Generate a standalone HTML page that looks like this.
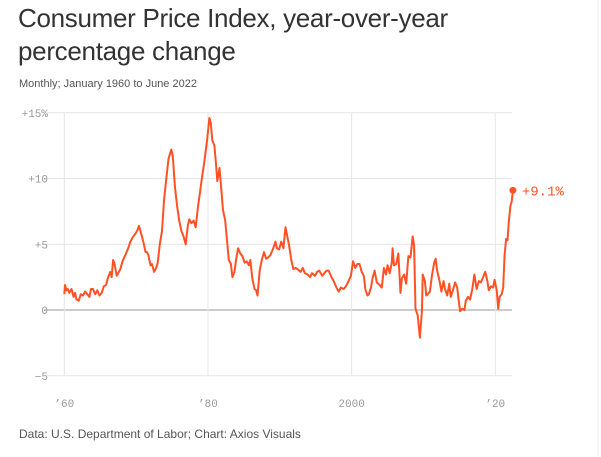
<!DOCTYPE html>
<html><head><meta charset="utf-8">
<style>
html,body{margin:0;padding:0;background:#fff;}
body{width:601px;height:457px;position:relative;overflow:hidden;font-family:"Liberation Sans",sans-serif;}
.title{position:absolute;left:18px;top:2px;font-size:26px;line-height:33px;color:#333;letter-spacing:-0.3px;}
.sub{position:absolute;left:19px;top:78px;font-size:11px;color:#555;}
.foot{position:absolute;left:19px;top:427px;font-size:12px;color:#555;}
svg{position:absolute;left:0;top:0;}
</style></head><body>
<div class="title">Consumer Price Index, year-over-year<br>percentage change</div>
<div class="sub">Monthly; January 1960 to June 2022</div>
<div class="foot">Data: U.S. Department of Labor; Chart: Axios Visuals</div>
<svg id="chart" width="601" height="457"></svg>
<script>
const years=[1960.0,1960.1,1960.3,1960.5,1960.7,1961.0,1961.3,1961.5,1961.7,1962.0,1962.3,1962.6,1962.9,1963.2,1963.5,1963.7,1964.0,1964.3,1964.6,1964.9,1965.2,1965.5,1965.8,1966.1,1966.4,1966.6,1966.8,1967.0,1967.3,1967.5,1967.8,1968.1,1968.5,1968.9,1969.2,1969.5,1969.9,1970.2,1970.4,1970.7,1971.0,1971.3,1971.5,1971.7,1972.0,1972.2,1972.5,1972.8,1973.0,1973.3,1973.6,1973.9,1974.2,1974.5,1974.9,1975.1,1975.4,1975.7,1976.0,1976.3,1976.6,1976.9,1977.2,1977.4,1977.7,1978.0,1978.3,1978.6,1978.9,1979.2,1979.5,1979.9,1980.2,1980.4,1980.6,1980.9,1981.1,1981.3,1981.6,1981.9,1982.1,1982.4,1982.7,1982.9,1983.2,1983.4,1983.7,1983.9,1984.2,1984.5,1984.8,1985.1,1985.4,1985.7,1985.9,1986.2,1986.5,1986.7,1986.9,1987.2,1987.5,1987.8,1988.1,1988.4,1988.7,1989.1,1989.4,1989.6,1989.9,1990.2,1990.5,1990.8,1991.0,1991.3,1991.6,1991.9,1992.2,1992.5,1992.9,1993.2,1993.5,1993.9,1994.2,1994.5,1994.9,1995.2,1995.5,1995.9,1996.2,1996.5,1996.8,1997.2,1997.5,1997.9,1998.2,1998.5,1998.9,1999.2,1999.5,1999.9,2000.2,2000.5,2000.8,2001.1,2001.4,2001.7,2001.9,2002.2,2002.4,2002.7,2002.9,2003.2,2003.5,2003.9,2004.2,2004.5,2004.8,2005.0,2005.3,2005.6,2005.7,2005.9,2006.2,2006.5,2006.8,2007.0,2007.3,2007.6,2007.9,2008.2,2008.5,2008.7,2008.9,2009.2,2009.5,2009.8,2009.9,2010.2,2010.4,2010.6,2010.9,2011.2,2011.5,2011.7,2011.9,2012.2,2012.5,2012.8,2013.0,2013.3,2013.6,2013.8,2014.1,2014.4,2014.7,2014.9,2015.1,2015.4,2015.7,2015.9,2016.2,2016.5,2016.8,2017.1,2017.4,2017.7,2018.0,2018.3,2018.6,2018.9,2019.1,2019.4,2019.7,2019.9,2020.2,2020.4,2020.6,2020.9,2021.1,2021.3,2021.5,2021.7,2021.9,2022.1,2022.3,2022.45];
const values=[1.2,1.9,1.5,1.6,1.3,1.6,1.0,1.3,0.8,0.7,1.2,1.1,1.4,1.2,1.0,1.6,1.6,1.2,1.5,1.1,1.3,1.8,1.9,2.5,2.9,2.5,3.8,3.5,2.6,2.8,3.1,3.7,4.2,4.7,5.2,5.5,5.8,6.1,6.4,5.8,5.2,4.4,4.4,4.2,3.4,3.5,2.9,3.2,3.6,5.0,6.0,8.4,10.0,11.5,12.2,11.7,9.4,7.9,6.8,6.0,5.6,5.0,6.4,6.9,6.6,6.8,6.3,7.8,9.0,10.2,11.3,13.0,14.6,14.2,12.9,12.5,11.2,9.8,10.8,8.9,7.6,6.8,5.0,3.8,3.5,2.5,2.9,3.8,4.7,4.3,4.1,3.6,3.7,3.4,3.8,2.3,1.6,1.5,1.1,3.0,3.8,4.4,3.9,4.0,4.2,4.7,5.2,4.7,4.6,5.2,4.7,6.3,5.7,4.9,3.8,3.1,3.2,3.1,2.9,3.2,2.8,2.7,2.5,2.8,2.6,2.9,3.0,2.6,2.8,3.0,3.0,2.5,2.2,1.7,1.4,1.7,1.6,1.8,2.1,2.6,3.7,3.2,3.5,3.5,2.9,2.6,1.6,1.1,1.2,1.7,2.4,3.0,2.1,1.9,1.7,3.2,2.7,3.4,2.8,3.6,4.7,3.4,3.5,4.3,1.3,2.4,2.7,2.0,4.1,4.0,5.6,4.9,0.1,-0.4,-2.1,0.0,2.7,2.2,1.1,1.2,1.4,2.7,3.6,3.9,3.0,2.3,1.4,2.2,1.6,1.1,2.0,1.0,1.5,2.1,1.7,0.8,-0.1,0.1,0.0,0.7,1.0,0.8,1.6,2.7,1.6,2.2,2.1,2.5,2.9,2.2,1.5,1.8,1.7,2.3,1.5,0.1,1.0,1.2,1.7,4.2,5.4,5.3,6.8,7.9,8.3,9.1];
const yTicks=[15,10,5,0,-5];
const yTickLabels=["+15%","+10","+5","0","\u22125"];
const xTicks=[1960,1980,2000,2020];
const xTickLabels=["\u201960","\u201980","2000","\u201920"];
const lastLabel="+9.1%";

const svg=document.getElementById('chart');
const NS='http://www.w3.org/2000/svg';
function xs(y){return 64.3+(y-1960)*7.183;}
function ys(v){return 310-v*13.15;}
function el(t,a){const e=document.createElementNS(NS,t);for(const k in a)e.setAttribute(k,a[k]);svg.appendChild(e);return e;}
yTicks.forEach((t,i)=>{
  const g=el('line',{x1:45,x2:512,y1:ys(t),y2:ys(t),stroke:t===0?'#bbb':'#e6e6e6','stroke-width':t===0?1.5:1});
  
  
  const l=el('text',{x:48,y:ys(t)+4,'text-anchor':'end','font-size':11,fill:'#999','font-family':'"Liberation Mono",monospace'});
  l.textContent=yTickLabels[i];
  
  
});
xTicks.forEach((t,i)=>{
  const g=el('line',{x1:xs(t),x2:xs(t),y1:ys(15),y2:ys(-5),stroke:'#e6e6e6','stroke-width':1});
  
  
  const l=el('text',{x:xs(t),y:407,'text-anchor':'middle','font-size':11,fill:'#999','font-family':'"Liberation Mono",monospace'});
  l.textContent=xTickLabels[i];
  
  
});
let d='';
years.forEach((y,i)=>{d+=(i?'L':'M')+xs(y).toFixed(1)+','+ys(values[i]).toFixed(1);});
const p=el('path',{d:d,fill:'none',stroke:'#ff5124','stroke-width':2,'stroke-linejoin':'round'});


const n=years.length-1;
const c=el('circle',{cx:xs(years[n]),cy:ys(values[n]),r:3.5,fill:'#ff5124'});


const t=el('text',{x:xs(years[n])+9,y:ys(values[n])+5,'font-size':14,fill:'#ff5124','font-family':'"Liberation Mono",monospace'});
t.textContent=lastLabel;


const b=el('line',{x1:598,x2:598,y1:0,y2:457,stroke:'#eee','stroke-width':1});


</script>
</body></html>
